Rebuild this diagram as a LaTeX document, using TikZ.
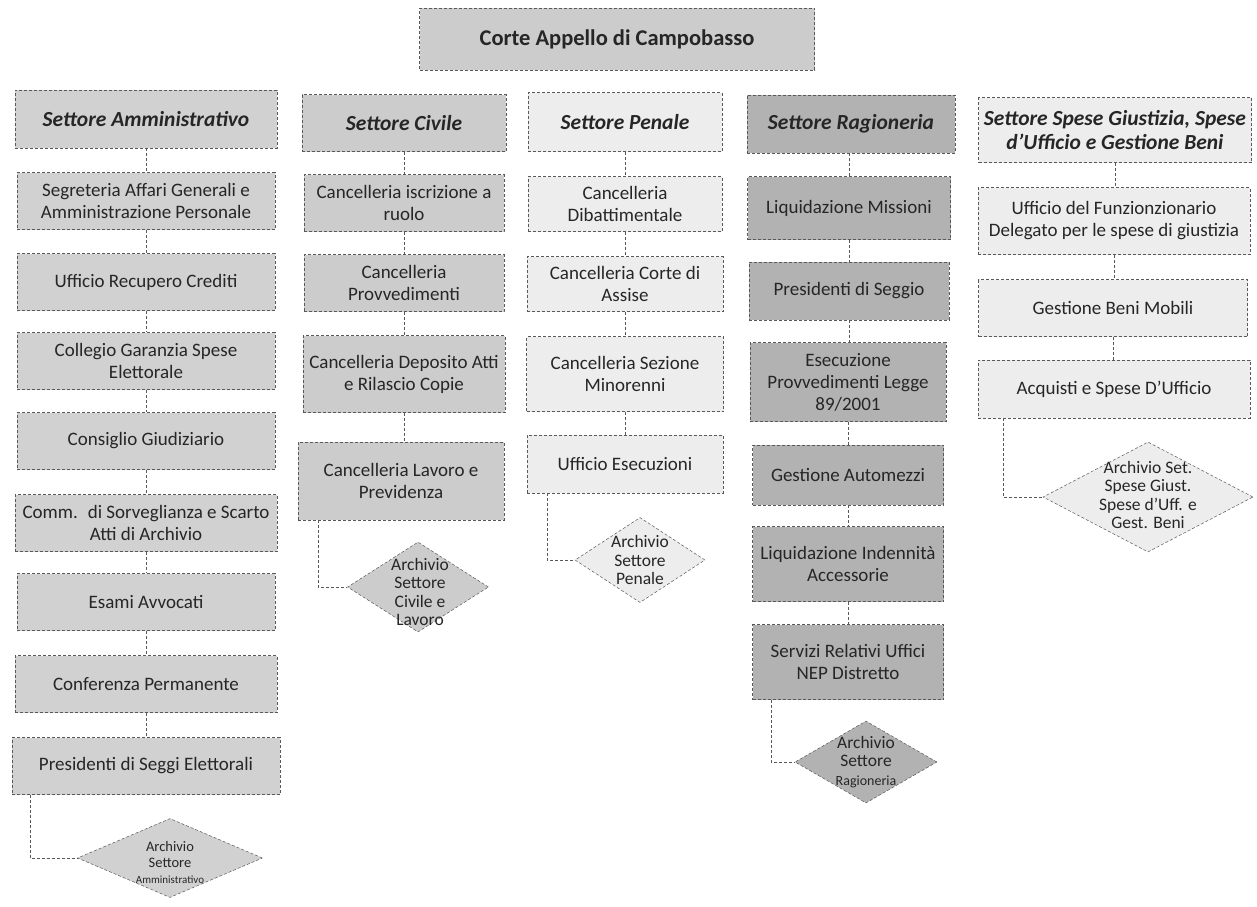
\documentclass[tikz,border=0pt]{standalone}
\usepackage{fontspec}
\setmainfont{Carlito}
\usetikzlibrary{shapes.geometric, positioning, calc}

\definecolor{shadeA}{gray}{0.82}
\definecolor{shadeB}{gray}{0.80}
\definecolor{shadeC}{gray}{0.93}
\definecolor{shadeD}{gray}{0.70}
\definecolor{shadeE}{gray}{0.93}
\definecolor{edge}{gray}{0.35}

\begin{document}
\begin{tikzpicture}[x=1pt, y=-1pt,
  box/.style={draw=edge, densely dashed, line width=0.5pt, align=center,
    inner sep=1pt, text=black!85, font=\fontsize{19}{22}\selectfont},
  hdr/.style={box, font=\fontsize{21.5}{24}\selectfont\bfseries\itshape},
  titlebox/.style={box, fill=shadeB, minimum width=395pt, minimum height=62pt,
    font=\fontsize{22.5}{26}\selectfont\bfseries},
  arch/.style={diamond, draw=edge, densely dashed, line width=0.5pt, inner sep=0pt},
  archtxt/.style={align=center, inner sep=0pt, text=black!85,
    font=\fontsize{17.5}{18.5}\selectfont},
  link/.style={draw=edge, densely dashed, line width=0.5pt}]

\useasboundingbox (0,0) rectangle (1257,906);

% title
\node[titlebox] (corte) at (617,39) {Corte Appello di Campobasso};

% Settore Amministrativo
\node[hdr, fill=shadeA, minimum width=262pt, minimum height=58pt] (amm) at (146,119) {Settore Amministrativo};
\node[box, fill=shadeA, minimum width=258pt, minimum height=57pt] (amm1) at (146,201) {Segreteria Affari Generali e\\Amministrazione Personale};
\node[box, fill=shadeA, minimum width=258pt, minimum height=57pt] (amm2) at (146,282) {Ufficio Recupero Crediti};
\node[box, fill=shadeA, minimum width=258pt, minimum height=57pt] (amm3) at (146,361) {Collegio Garanzia Spese\\Elettorale};
\node[box, fill=shadeA, minimum width=258pt, minimum height=57pt] (amm4) at (146,441) {Consiglio Giudiziario};
\node[box, fill=shadeA, minimum width=262pt, minimum height=57pt] (amm5) at (146,523) {Comm.~ di Sorveglianza e Scarto\\Atti di Archivio};
\node[box, fill=shadeA, minimum width=258pt, minimum height=57pt] (amm6) at (146,602) {Esami Avvocati};
\node[box, fill=shadeA, minimum width=262pt, minimum height=57pt] (amm7) at (146,684) {Conferenza Permanente};
\node[box, fill=shadeA, minimum width=268pt, minimum height=57pt] (amm8) at (146,766) {Presidenti di Seggi Elettorali};
\node[arch, fill=shadeA, minimum width=185pt, minimum height=79pt] (arcA) at (170,858) {};
\node[archtxt, font=\fontsize{14.5}{16}\selectfont] (arcAt) at (170,862) {Archivio\\Settore\\{\fontsize{11}{13}\selectfont Amministrativo}};

% Settore Civile
\node[hdr, fill=shadeB, minimum width=204pt, minimum height=57pt] (civ) at (404,123) {Settore Civile};
\node[box, fill=shadeB, minimum width=200pt, minimum height=57pt] (civ1) at (404,203) {Cancelleria iscrizione a\\ruolo};
\node[box, fill=shadeB, minimum width=200pt, minimum height=57pt] (civ2) at (404,283) {Cancelleria\\Provvedimenti};
\node[box, fill=shadeB, minimum width=202pt, minimum height=77pt] (civ3) at (404,374) {Cancelleria Deposito Atti\\e Rilascio Copie};
\node[box, fill=shadeB, minimum width=206pt, minimum height=78pt] (civ4) at (401,481) {Cancelleria Lavoro e\\Previdenza};
\node[arch, fill=shadeB, minimum width=141pt, minimum height=90pt] (arcB) at (418,587) {};
\node[archtxt] (arcBt) at (420,592) {Archivio\\Settore\\Civile e\\Lavoro};

% Settore Penale
\node[hdr, fill=shadeC, minimum width=194pt, minimum height=59pt] (pen) at (625,122) {Settore Penale};
\node[box, fill=shadeC, minimum width=194pt, minimum height=55pt] (pen1) at (625,204) {Cancelleria\\Dibattimentale};
\node[box, fill=shadeC, minimum width=196pt, minimum height=55pt] (pen2) at (625,284) {Cancelleria Corte di\\Assise};
\node[box, fill=shadeC, minimum width=197pt, minimum height=75pt] (pen3) at (625,374) {Cancelleria Sezione\\Minorenni};
\node[box, fill=shadeC, minimum width=196pt, minimum height=58pt] (pen4) at (625,464) {Ufficio Esecuzioni};
\node[arch, fill=shadeC, minimum width=130pt, minimum height=85pt] (arcC) at (640,560) {};
\node[archtxt] (arcCt) at (arcC) {Archivio\\Settore\\Penale};

% Settore Ragioneria
\node[hdr, fill=shadeD, minimum width=208pt, minimum height=58pt] (rag) at (851,124) {Settore Ragioneria};
\node[box, fill=shadeD, minimum width=203pt, minimum height=63pt] (rag1) at (849,208) {Liquidazione Missioni};
\node[box, fill=shadeD, minimum width=200pt, minimum height=58pt] (rag2) at (849,291) {Presidenti di Seggio};
\node[box, fill=shadeD, minimum width=196pt, minimum height=79pt] (rag3) at (848,382) {Esecuzione\\Provvedimenti Legge\\89/2001};
\node[box, fill=shadeD, minimum width=191pt, minimum height=60pt] (rag4) at (848,475) {Gestione Automezzi};
\node[box, fill=shadeD, minimum width=191pt, minimum height=75pt] (rag5) at (848,564) {Liquidazione Indennità\\Accessorie};
\node[box, fill=shadeD, minimum width=191pt, minimum height=75pt] (rag6) at (848,662) {Servizi Relativi Uffici\\NEP Distretto};
\node[arch, fill=shadeD, minimum width=142pt, minimum height=82pt] (arcD) at (866,762) {};
\node[archtxt] (arcDt) at (866,762) {Archivio\\Settore\\{\fontsize{14}{16}\selectfont Ragioneria}};

% Settore Spese Giustizia
\node[hdr, fill=shadeE, minimum width=273pt, minimum height=65pt] (spe) at (1115,130) {Settore Spese Giustizia, Spese\\d'Ufficio e Gestione Beni};
\node[box, fill=shadeE, minimum width=272pt, minimum height=67pt] (spe1) at (1114,221) {Ufficio del Funzionzionario\\Delegato per le spese di giustizia};
\node[box, fill=shadeE, minimum width=269pt, minimum height=57pt] (spe2) at (1113,308) {Gestione Beni Mobili};
\node[box, fill=shadeE, minimum width=272pt, minimum height=58pt] (spe3) at (1114,389) {Acquisti e Spese D'Ufficio};
\node[arch, fill=shadeE, minimum width=210pt, minimum height=110pt] (arcE) at (1148,497) {};
\node[archtxt] (arcEt) at (1148,495) {Archivio Set.\\Spese Giust.\\Spese d'Uff. e\\Gest. Beni};

% connectors inside each sector
\foreach \a/\b in {amm/amm1, amm1/amm2, amm2/amm3, amm3/amm4, amm4/amm5, amm5/amm6, amm6/amm7, amm7/amm8,
    civ/civ1, civ1/civ2, civ2/civ3, civ3/civ4,
    pen/pen1, pen1/pen2, pen2/pen3, pen3/pen4,
    rag1/rag2, rag2/rag3, rag3/rag4, rag4/rag5, rag5/rag6,
    spe/spe1, spe1/spe2, spe2/spe3}
  \draw[link] (\a.south) -- (\a.south |- \b.north);
\draw[link] (rag1.north) -- (rag1.north |- rag.south);

% archives
\draw[link] ([xshift=18pt]amm8.south west) |- (arcA.west);
\draw[link] ([xshift=20pt]civ4.south west) |- (arcB.west);
\draw[link] ([xshift=20pt]pen4.south west) |- (arcC.west);
\draw[link] ([xshift=19pt]rag6.south west) |- (arcD.west);
\draw[link] ([xshift=25pt]spe3.south west) |- (arcE.west);
\end{tikzpicture}
\end{document}
